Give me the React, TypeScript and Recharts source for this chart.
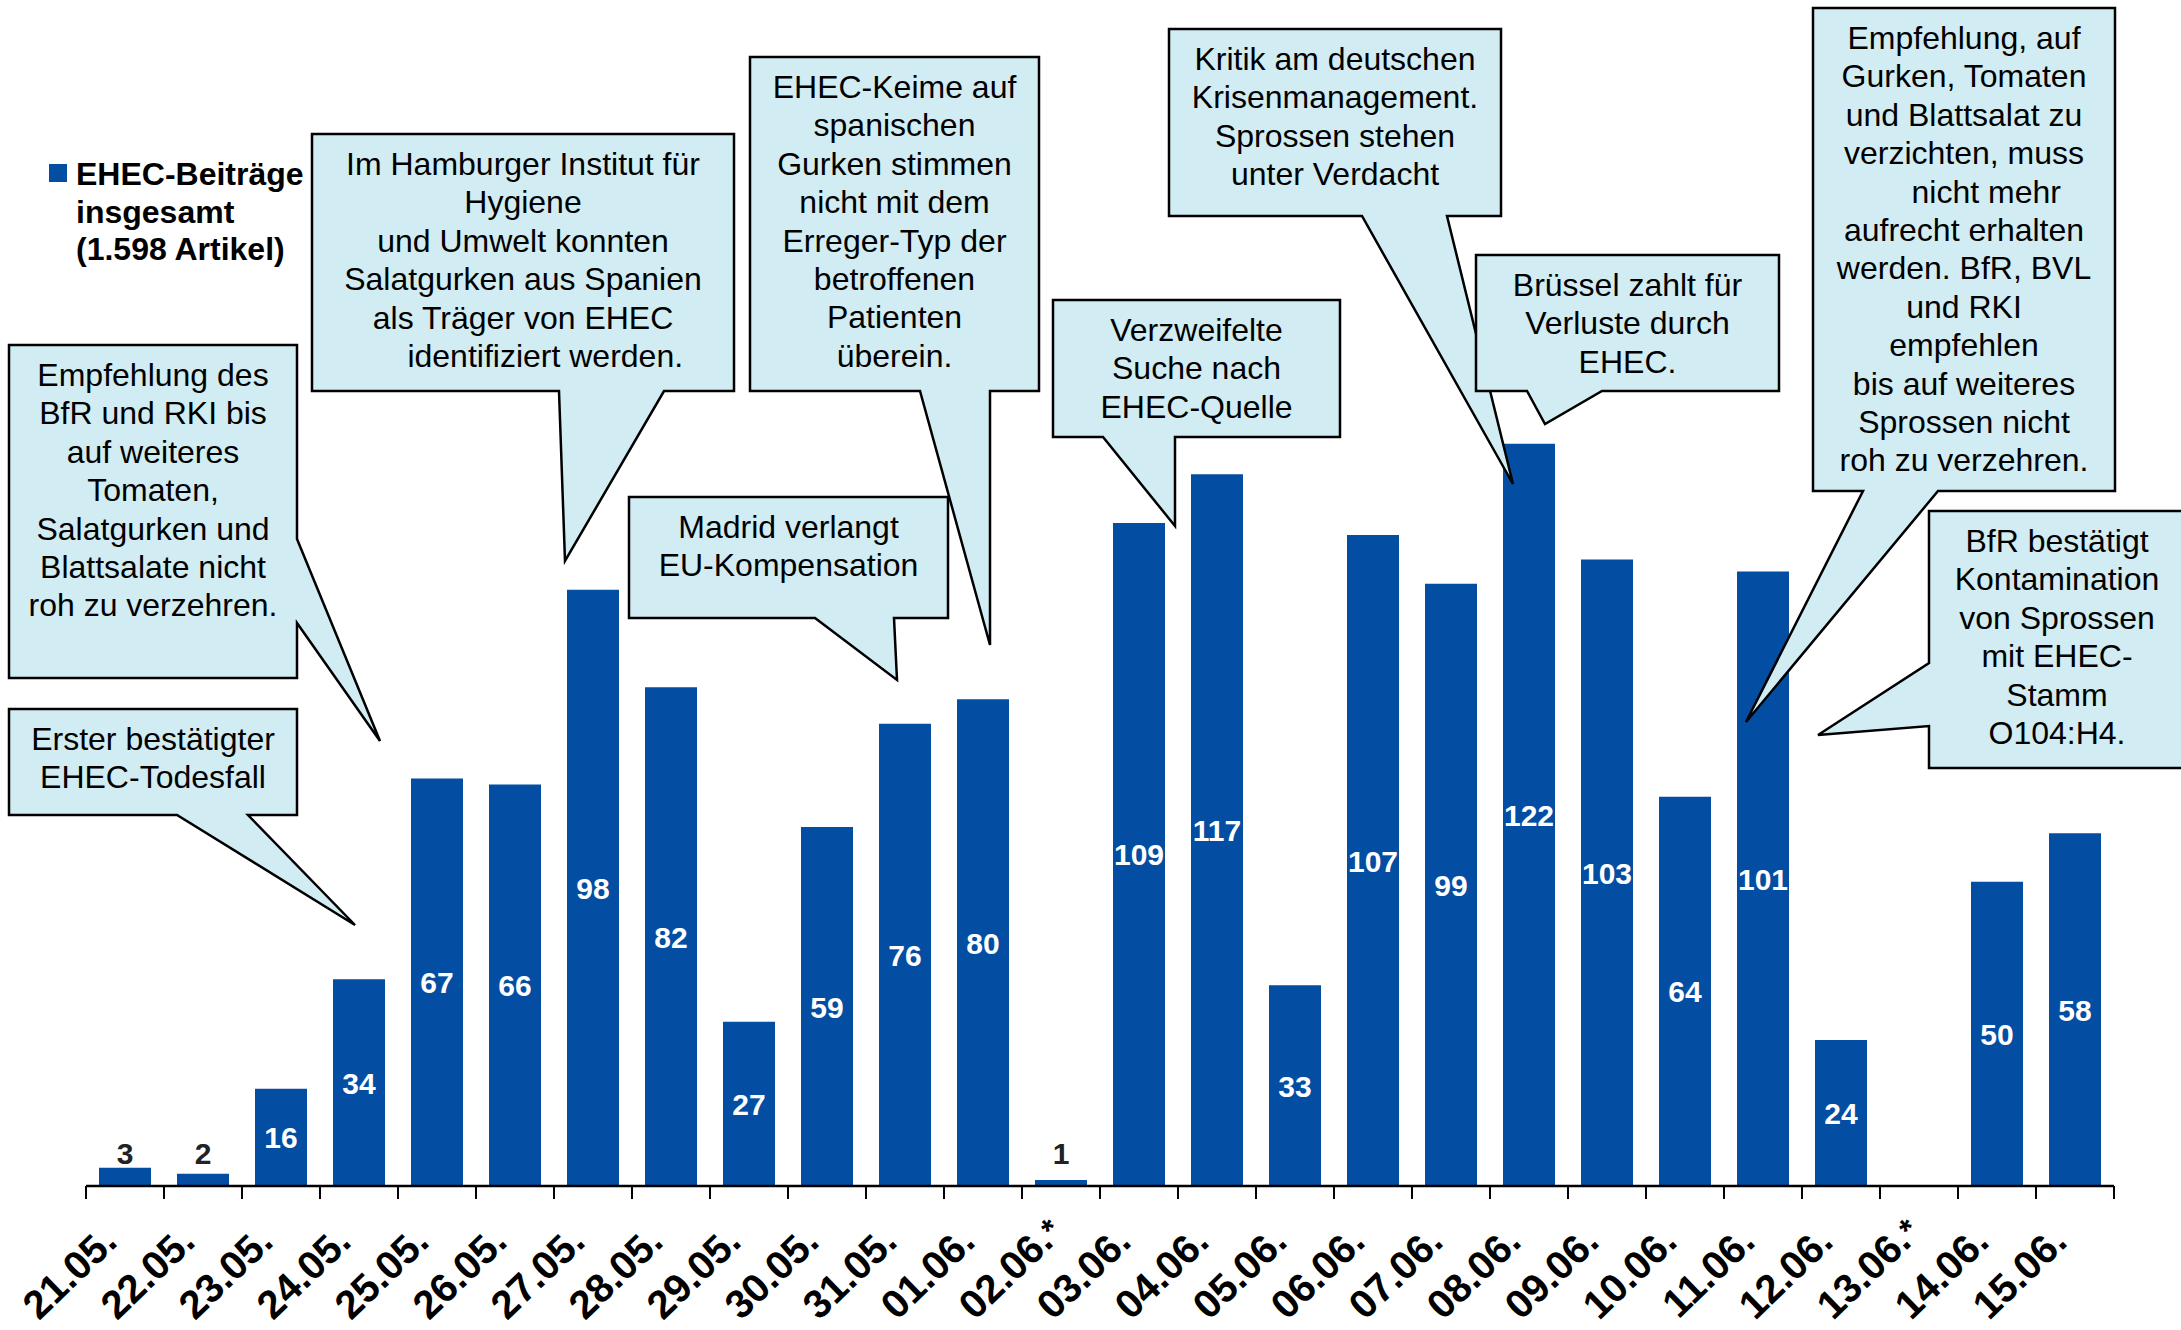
import { BarChart, Bar, XAxis, YAxis, LabelList } from 'recharts';

const days = [
  '21.05.', '22.05.', '23.05.', '24.05.', '25.05.', '26.05.', '27.05.', '28.05.', '29.05.',
  '30.05.', '31.05.', '01.06.', '02.06.', '03.06.', '04.06.', '05.06.', '06.06.', '07.06.',
  '08.06.', '09.06.', '10.06.', '11.06.', '12.06.', '13.06.', '14.06.', '15.06.',
];
// days marked with an asterisk under the axis
const starredDays = ['02.06.', '13.06.'];
const articles = [
  3, 2, 16, 34, 67, 66, 98, 82, 27, 59, 76, 80, 1, 109, 117, 33, 107, 99, 122, 103, 64, 101, 24, 0, 50, 58,
];
const legendLines = ['EHEC-Beiträge', 'insgesamt', '(1.598 Artikel)'];

const data = days.map((day, i) => ({ day, articles: articles[i] }));

const BLUE = '#034ea2';
const BOX_FILL = '#d1ecf2';
const FONT = '"Liberation Sans", Arial, Helvetica, sans-serif';
const W = 2181;
const H = 1330;

type Callout = {
  box: [number, number, number, number];
  side: 'bottom' | 'right' | 'left';
  attach: [number, number];
  tip: [number, number];
  lines: string[];
};

const callouts: Callout[] = [
  {
    box: [9, 345, 288, 333],
    side: 'right',
    attach: [539, 623],
    tip: [380, 741],
    lines: ['Empfehlung des', 'BfR und RKI bis', 'auf weiteres', 'Tomaten,', 'Salatgurken und', 'Blattsalate nicht', 'roh zu verzehren.'],
  },
  {
    box: [9, 709, 288, 106],
    side: 'bottom',
    attach: [177, 248],
    tip: [355, 925],
    lines: ['Erster bestätigter', 'EHEC-Todesfall'],
  },
  {
    box: [312, 134, 422, 257],
    side: 'bottom',
    attach: [559, 664],
    tip: [565, 561],
    lines: ['Im Hamburger Institut für', 'Hygiene', 'und Umwelt konnten', 'Salatgurken aus Spanien', 'als Träger von EHEC', '     identifiziert werden.'],
  },
  {
    box: [750, 57, 289, 334],
    side: 'bottom',
    attach: [920, 990],
    tip: [990, 645],
    lines: ['EHEC-Keime auf', 'spanischen', 'Gurken stimmen', 'nicht mit dem', 'Erreger-Typ der', 'betroffenen', 'Patienten', 'überein.'],
  },
  {
    box: [629, 497, 319, 121],
    side: 'bottom',
    attach: [815, 894],
    tip: [897, 680],
    lines: ['Madrid verlangt', 'EU-Kompensation'],
  },
  {
    box: [1053, 300, 287, 137],
    side: 'bottom',
    attach: [1103, 1175],
    tip: [1175, 526],
    lines: ['Verzweifelte', 'Suche nach', 'EHEC-Quelle'],
  },
  {
    box: [1169, 29, 332, 187],
    side: 'bottom',
    attach: [1362, 1447],
    tip: [1513, 484],
    lines: ['Kritik am deutschen', 'Krisenmanagement.', 'Sprossen stehen', 'unter Verdacht'],
  },
  {
    box: [1476, 255, 303, 136],
    side: 'bottom',
    attach: [1527, 1602],
    tip: [1545, 424],
    lines: ['Brüssel zahlt für', 'Verluste durch', 'EHEC.'],
  },
  {
    box: [1813, 8, 302, 483],
    side: 'bottom',
    attach: [1863, 1938],
    tip: [1746, 722],
    lines: [
      'Empfehlung, auf', 'Gurken, Tomaten', 'und Blattsalat zu', 'verzichten, muss', '     nicht mehr',
      'aufrecht erhalten', 'werden. BfR, BVL', 'und RKI', 'empfehlen', 'bis auf weiteres',
      'Sprossen nicht', 'roh zu verzehren.',
    ],
  },
  {
    box: [1929, 511, 256, 257],
    side: 'left',
    attach: [663, 726],
    tip: [1818, 735],
    lines: ['BfR bestätigt', 'Kontamination', 'von Sprossen', 'mit EHEC-', 'Stamm', 'O104:H4.'],
  },
];

function calloutPath(c: Callout) {
  const [x, y, w, h] = c.box;
  const r = x + w;
  const b = y + h;
  const [tx, ty] = c.tip;
  const [a1, a2] = c.attach;
  if (c.side === 'bottom') return `M${x},${y} H${r} V${b} H${a2} L${tx},${ty} L${a1},${b} H${x} Z`;
  if (c.side === 'right') return `M${x},${y} H${r} V${a1} L${tx},${ty} L${r},${a2} V${b} H${x} Z`;
  return `M${x},${y} H${r} V${b} H${x} V${a2} L${tx},${ty} L${x},${a1} Z`;
}

function DayTick(props: any) {
  const { x, y, payload, index } = props;
  const half = payload?.offset || 39;
  const lx = x - 6;
  const ly = y + 58;
  const starred = starredDays.includes(payload.value);
  return (
    <g>
      <line x1={x - half} y1={y} x2={x - half} y2={y + 13} stroke="#000" strokeWidth={2} />
      {index === days.length - 1 && (
        <line x1={x + half} y1={y} x2={x + half} y2={y + 13} stroke="#000" strokeWidth={2} />
      )}
      <g transform={`rotate(-44, ${lx}, ${ly})`}>
        <text x={lx} y={ly} textAnchor="end" fontFamily={FONT} fontWeight="bold" fontSize={40} fill="#000">
          {payload.value}
        </text>
        {starred && (
          <text x={lx + 1} y={ly - 3} textAnchor="start" fontFamily={FONT} fontWeight="bold" fontSize={32} fill="#000">
            *
          </text>
        )}
      </g>
    </g>
  );
}

function ValueLabel(props: any) {
  const { x, y, width, height, value } = props;
  if (!value) return null;
  const cx = x + width / 2;
  if (value < 10) {
    return (
      <text x={cx} y={y + height - 22} textAnchor="middle" fontFamily={FONT} fontWeight="bold" fontSize={30} fill="#222">
        {value}
      </text>
    );
  }
  return (
    <text x={cx} y={y + height / 2 + 11} textAnchor="middle" fontFamily={FONT} fontWeight="bold" fontSize={30} fill="#fff">
      {value}
    </text>
  );
}

export default function App() {
  return (
    <div style={{ position: 'absolute', left: 0, top: 0, width: W, height: H, overflow: 'hidden', background: '#fff' }}>
      <BarChart width={W} height={H} data={data} margin={{ top: 91, right: 67, bottom: 44, left: 86 }}>
        <XAxis
          dataKey="day"
          height={100}
          interval={0}
          tickSize={0}
          tickMargin={0}
          tickLine={false}
          axisLine={{ stroke: '#000', strokeWidth: 2.5 }}
          tick={<DayTick />}
        />
        <YAxis hide domain={[0, 180]} />
        <Bar dataKey="articles" fill={BLUE} barSize={52} isAnimationActive={false}>
          <LabelList dataKey="articles" content={<ValueLabel />} />
        </Bar>
      </BarChart>

      <svg width={W} height={H} style={{ position: 'absolute', left: 0, top: 0, pointerEvents: 'none' }}>
        {/* legend */}
        <rect x={49} y={164} width={18} height={18} fill={BLUE} />
        {legendLines.map((line, i) => (
          <text key={line} x={76} y={185 + i * 37.5} fontFamily={FONT} fontWeight="bold" fontSize={32} fill="#000">
            {line}
          </text>
        ))}

        {/* speech-bubble annotations */}
        {callouts.map((c, k) => {
          const [x, y, w] = c.box;
          return (
            <g key={k}>
              <path d={calloutPath(c)} fill={BOX_FILL} stroke="#000" strokeWidth={2.5} strokeLinejoin="miter" />
              {c.lines.map((line, i) => (
                <text
                  key={i}
                  x={x + w / 2}
                  y={y + 41 + i * 38.4}
                  textAnchor="middle"
                  fontFamily={FONT}
                  fontSize={32}
                  fill="#000"
                  style={{ whiteSpace: 'pre' }}
                >
                  {line}
                </text>
              ))}
            </g>
          );
        })}
      </svg>
    </div>
  );
}
